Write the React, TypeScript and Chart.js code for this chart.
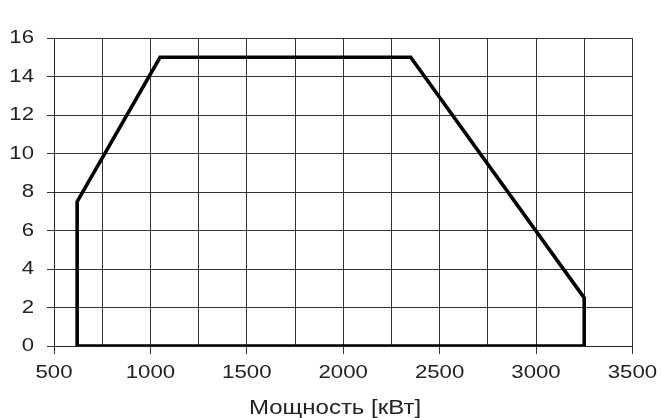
import React, { useEffect, useRef } from "react";
import { Chart, registerables } from "chart.js";

Chart.register(...registerables);

const powerKW = [620, 620, 1050, 2350, 3250, 3250, 620];
const pressure = [0, 7.5, 15, 15, 2.5, 0, 0];
const xTitle = "Мощность [кВт]";

const W = 661;
const H = 418;
const TEXT_STRETCH = 1.2;
const FONT = "'Liberation Sans', Arial, sans-serif";

const axisTitlePlugin = {
  id: "axisTitleBelow",
  afterDraw(chart: any) {
    const ctx = chart.ctx;
    ctx.save();
    ctx.fillStyle = "#222";
    ctx.font = `20px ${FONT}`;
    ctx.textAlign = "center";
    ctx.textBaseline = "middle";
    ctx.fillText(xTitle, 335, 408);
    ctx.restore();
  },
};

export default function App() {
  const ref = useRef<HTMLCanvasElement | null>(null);
  useEffect(() => {
    const canvas = ref.current;
    if (!canvas) return;
    const ctx = canvas.getContext("2d") as any;
    const origFill = CanvasRenderingContext2D.prototype.fillText;
    // text in the reference is horizontally widened; widen glyphs around their anchor
    ctx.fillText = function (text: string, x: number, y: number, maxWidth?: number) {
      this.save();
      this.translate(x, y);
      this.scale(TEXT_STRETCH, 1);
      if (maxWidth !== undefined && maxWidth !== null) {
        origFill.call(this, text, 0, 0, maxWidth / TEXT_STRETCH);
      } else {
        origFill.call(this, text, 0, 0);
      }
      this.restore();
    };
    const chart = new Chart(ctx, {
      type: "scatter",
      data: {
        datasets: [
          {
            data: powerKW.map((x, i) => ({ x, y: pressure[i] })),
            showLine: true,
            borderColor: "#000",
            borderWidth: 3.6,
            pointRadius: 0,
            borderJoinStyle: "miter",
            fill: false,
          },
        ],
      },
      options: {
        animation: false,
        responsive: false,
        devicePixelRatio: 1,
        layout: { padding: { left: 0, right: 27, top: 38, bottom: 0 } },
        plugins: { legend: { display: false }, tooltip: { enabled: false } },
        scales: {
          x: {
            type: "linear",
            min: 500,
            max: 3500,
            afterFit: (s: any) => {
              s.height = 72;
            },
            border: { color: "#222", width: 1 },
            grid: {
              color: "#333",
              lineWidth: 1,
              tickLength: 8,
              tickColor: (c: any) =>
                c.tick && c.tick.value % 500 === 0 ? "#333" : "rgba(0,0,0,0)",
            },
            ticks: {
              stepSize: 250,
              autoSkip: false,
              maxRotation: 0,
              padding: 8,
              color: "#222",
              font: { family: FONT, size: 18.5 },
              callback: (v: any) => (Number(v) % 500 === 0 ? String(v) : ""),
            },
            title: { display: false, text: xTitle },
          },
          y: {
            min: 0,
            max: 16,
            afterFit: (s: any) => {
              s.width = 54;
            },
            border: { color: "#222", width: 1 },
            grid: { color: "#333", lineWidth: 1, tickLength: 7, tickColor: "#333" },
            ticks: {
              stepSize: 2,
              padding: 13,
              color: "#222",
              font: { family: FONT, size: 18.5 },
            },
          },
        },
      },
      plugins: [axisTitlePlugin],
    });
    return () => {
      chart.destroy();
      delete ctx.fillText;
    };
  }, []);
  return (
    <div style={{ position: "fixed", left: 0, top: 0, width: W, height: H, background: "#fff" }}>
      <canvas ref={ref} width={W} height={H} style={{ width: W, height: H, display: "block" }} />
    </div>
  );
}
